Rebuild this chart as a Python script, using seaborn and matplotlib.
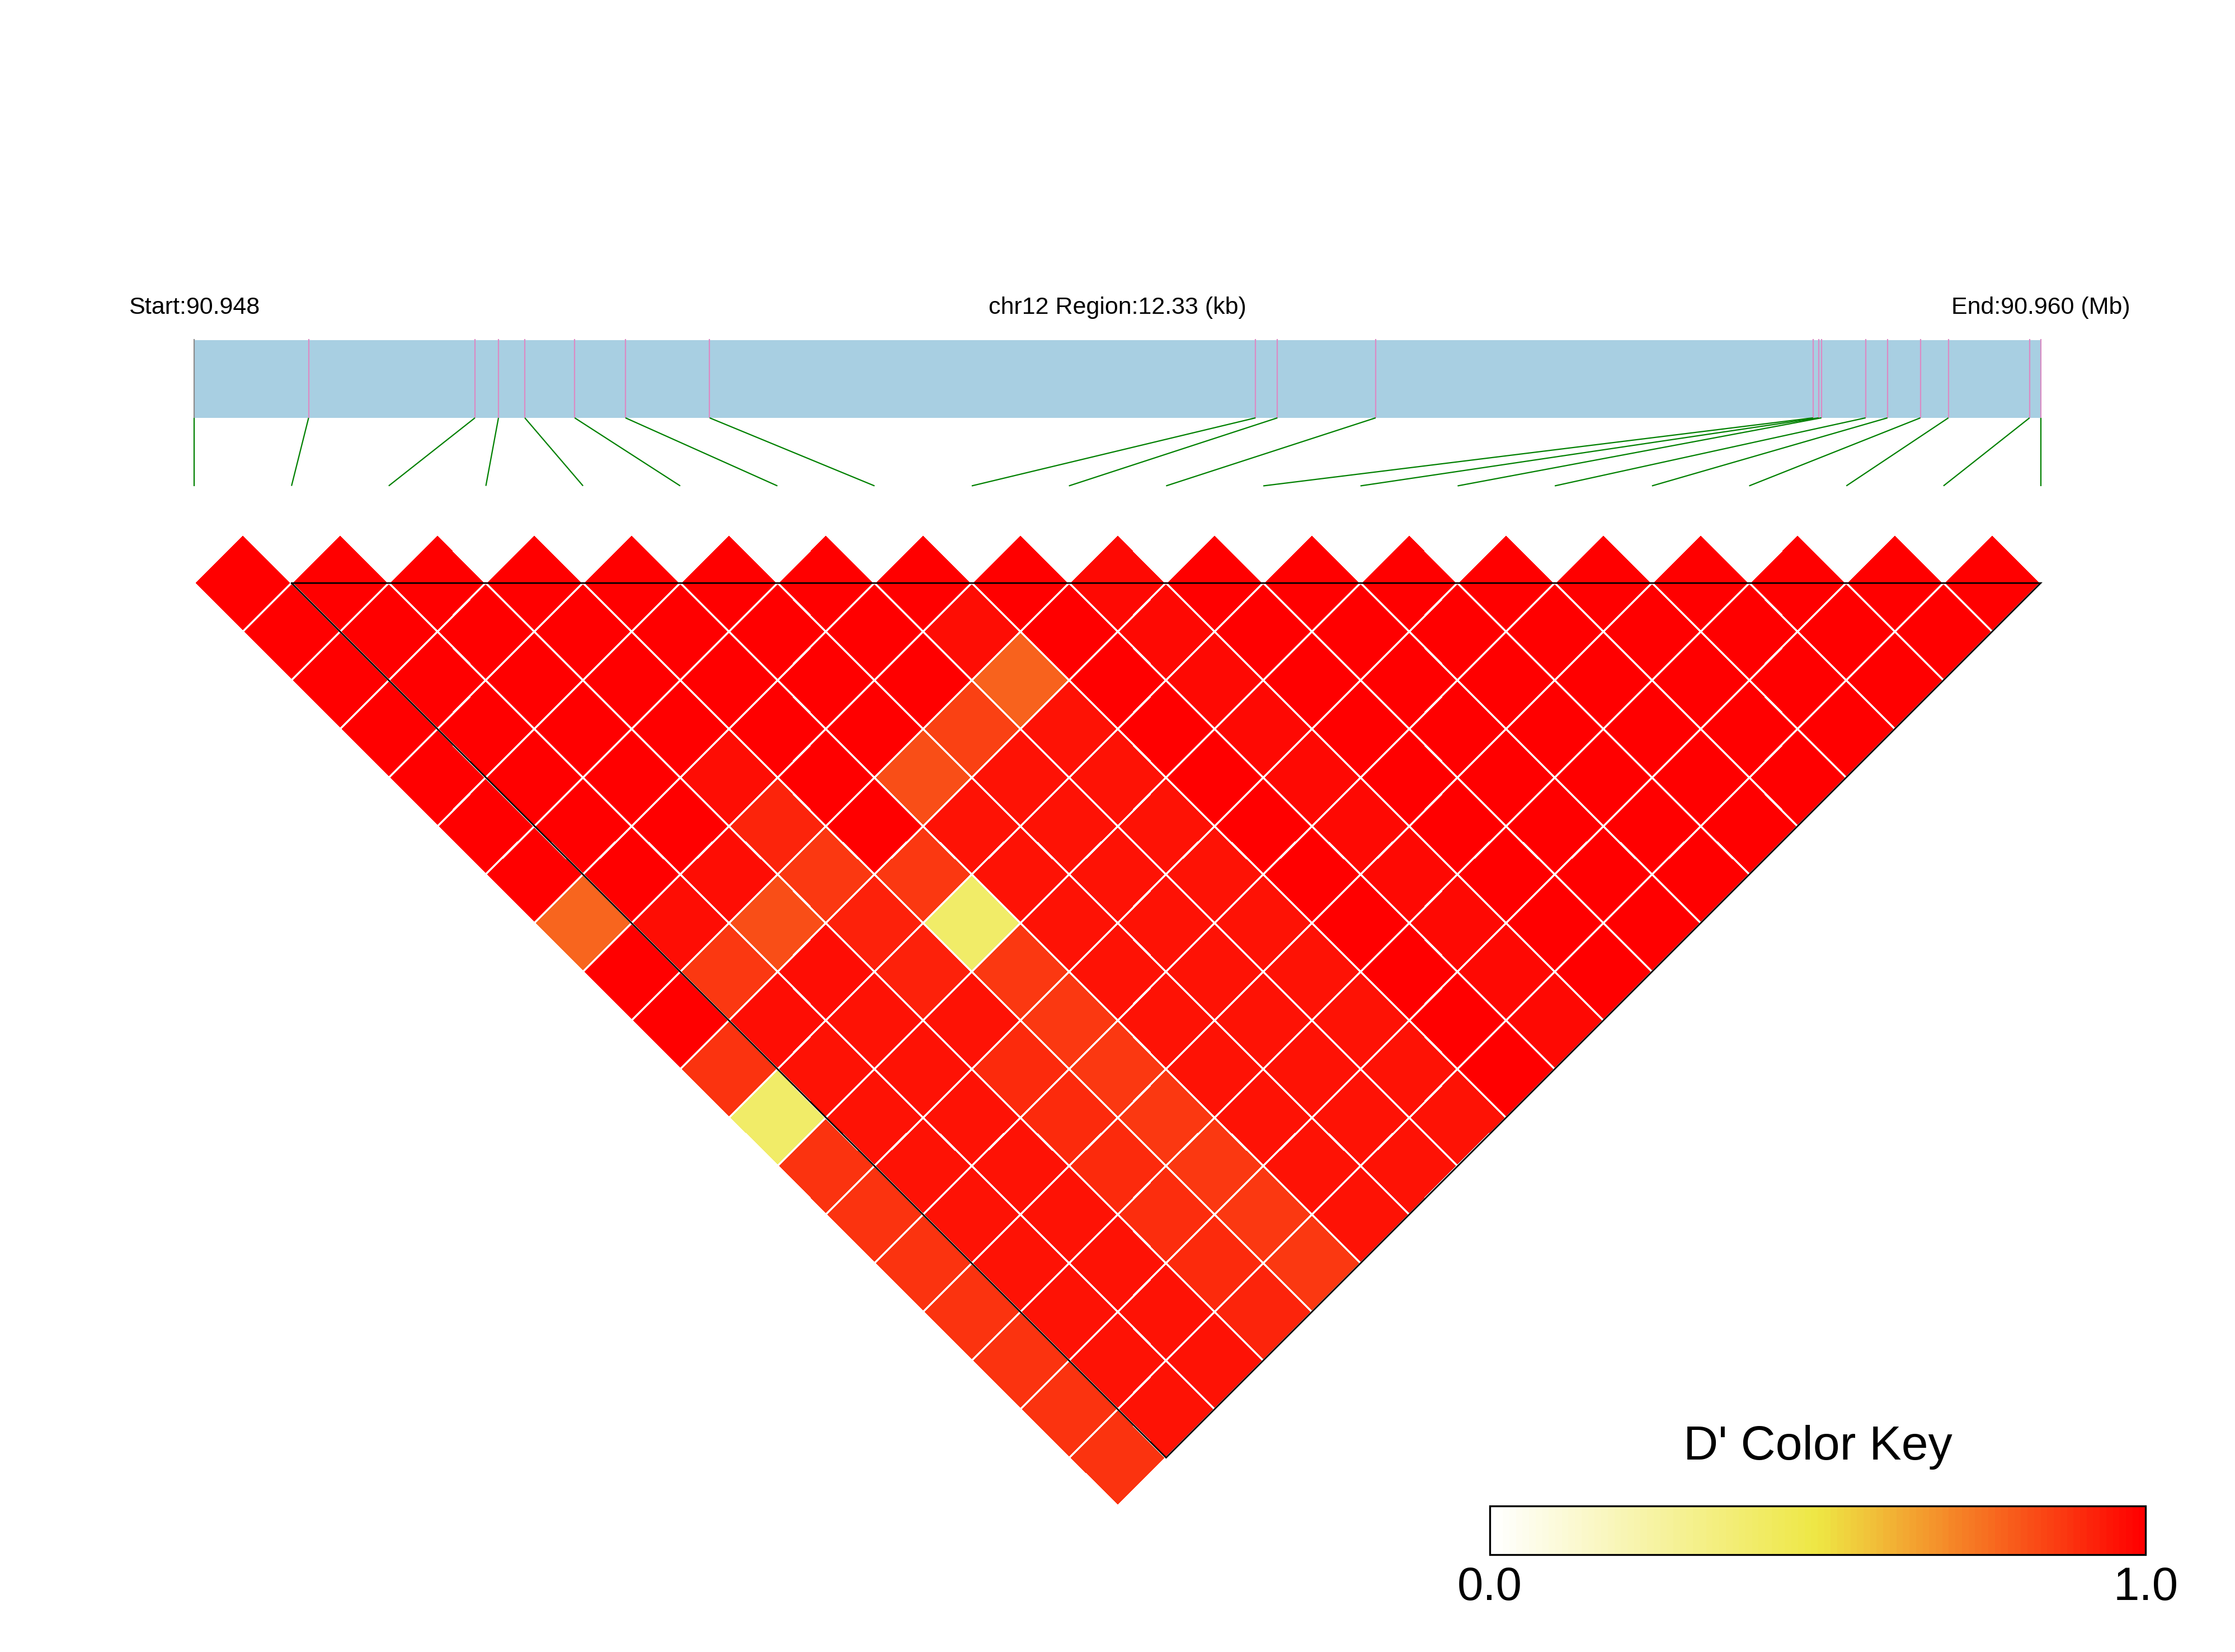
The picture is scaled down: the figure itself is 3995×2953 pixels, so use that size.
import numpy as np
import matplotlib
matplotlib.use("Agg")
import matplotlib.pyplot as plt
import seaborn as sns
from matplotlib.colors import LinearSegmentedColormap, ListedColormap
from matplotlib.transforms import Affine2D
from matplotlib.collections import LineCollection

# ---------------- data ----------------
chrom = "chr12"
snp_pos = [90947800, 90948563, 90949674, 90949831, 90950007, 90950340, 90950679,
           90951241, 90954887, 90955033, 90955689, 90958610, 90958647, 90958666,
           90958961, 90959107, 90959327, 90959514, 90960056, 90960130]

# D' of SNP i with SNPs i+1 .. 19
dp_0 = [1, 1, 1, 1, 1, 1, 1, 0.77, 1, 1, 0.88, 0.40, 0.88, 0.88, 0.88, 0.88, 0.88, 0.88, 0.88]
dp_1 = [1, 1, 1, 1, 1, 1, 1, 0.96, 0.87, 0.96, 0.95, 0.95, 0.95, 0.95, 0.95, 0.95, 0.95, 0.95]
dp_2 = [1, 1, 1, 1, 1, 1, 0.96, 0.82, 0.96, 0.95, 0.95, 0.95, 0.95, 0.95, 0.95, 0.95, 0.95]
dp_3 = [1, 1, 1, 1, 0.96, 0.91, 0.87, 0.92, 0.92, 0.95, 0.90, 0.90, 0.90, 0.89, 0.90, 0.91]
dp_4 = [1, 1, 1, 1, 1, 1, 0.87, 0.40, 0.87, 0.87, 0.87, 0.87, 0.87, 0.87, 0.87]
dp_5 = [1, 1, 1, 1, 0.82, 0.95, 0.95, 0.95, 0.95, 0.95, 0.95, 0.95, 0.95, 0.95]
dp_6 = [1, 1, 1, 0.85, 0.95, 0.95, 0.95, 0.95, 0.95, 0.95, 0.95, 0.95, 0.95]
dp_7 = [1, 0.96, 0.78, 0.95, 0.95, 0.95, 0.95, 0.95, 0.95, 0.95, 0.95, 0.95]
dp_8 = [1, 1, 1, 1, 1, 1, 1, 1, 1, 1, 1]
dp_9 = [0.97, 0.97, 0.97, 0.97, 0.97, 0.97, 0.97, 0.97, 0.97, 0.97]
dp_10 = [1, 1, 1, 1, 1, 1, 1, 1, 1]
dp_11 = [1, 1, 1, 1, 1, 1, 1, 1]
dp_12 = [1, 1, 1, 1, 1, 1, 1]
dp_13 = [1, 1, 1, 1, 1, 1]
dp_14 = [1, 1, 1, 1, 1]
dp_15 = [1, 1, 1, 1]
dp_16 = [1, 1, 1]
dp_17 = [1, 1]
dp_18 = [1]
dp_rows = [dp_0, dp_1, dp_2, dp_3, dp_4, dp_5, dp_6, dp_7, dp_8, dp_9,
           dp_10, dp_11, dp_12, dp_13, dp_14, dp_15, dp_16, dp_17, dp_18]

block_snps = [1, 19]          # LD block outlined in black
cbar_ticks = [0.0, 1.0]

# ---------------- build matrix ----------------
n = len(snp_pos)
M = np.full((n, n), np.nan)
for i, row in enumerate(dp_rows):
    for k, v in enumerate(row):
        M[i + 1 + k, i] = v

base = LinearSegmentedColormap.from_list("dkey", ["#FFFFFF", "#EEE744", "#FF0000"])
cmap = ListedColormap(base(np.linspace(0, 1, 100)))

sns.set_theme(style="white")
plt.rcParams["font.family"] = ["Liberation Sans", "DejaVu Sans"]
plt.rcParams["text.color"] = "black"
plt.rcParams["xtick.color"] = "black"
plt.rcParams["xtick.labelcolor"] = "black"

W, H = 3995, 2953
fig = plt.figure(figsize=(W / 100, H / 100), dpi=100)
ax = fig.add_axes([0, 0, 1, 1])
unit = W / 23.0
# colour key axes: x 13.33..20.08 units, y 9.5..10.0 units (top origin at -6)
cb_left, cb_right, cb_top, cb_bot = 13.33, 20.08, 9.5, 10.0
cax = fig.add_axes([(cb_left + 2) * unit / W, 1 - (cb_bot + 6) * unit / H,
                    (cb_right - cb_left) * unit / W, (cb_bot - cb_top) * unit / H])

sns.heatmap(M, mask=np.isnan(M), cmap=cmap, vmin=0, vmax=1, linewidths=1.7,
            linecolor="white", ax=ax, cbar=True, cbar_ax=cax,
            cbar_kws=dict(orientation="horizontal", ticks=cbar_ticks, format="%.1f"),
            xticklabels=False, yticklabels=False)

mesh = ax.collections[0]
rot = Affine2D(np.array([[0.5, 0.5, -0.5], [-0.5, 0.5, -0.5], [0, 0, 1]]))
mesh.set_transform(rot + ax.transData)
mesh.set_zorder(1)

ax.set_xlim(-2, 21)
ax.set_ylim(11, -6)
ax.set_axis_off()

# LD block outline
a, b = block_snps
ax.plot([a, b, a, a], [a + 1, b + 1, b + 1, a + 1], color="black", lw=2.0,
        transform=rot + ax.transData, zorder=4, solid_joinstyle="miter")

# ---------------- genetic map track ----------------
start, end = snp_pos[0], snp_pos[-1]
span = end - start
xg = [(p - start) / span * (n - 1) for p in snp_pos]
bar_top, bar_bot, line_end = -2.5, -1.7, -1.0
ax.fill_between([xg[0], xg[-1]], bar_top, bar_bot, color="#A8CFE2", lw=0, zorder=5)
ax.vlines(xg[1:], bar_top - 0.01, bar_bot, color="#DB8BC4", lw=1.6, zorder=6)
ax.vlines(xg[:1], bar_top - 0.01, bar_bot, color="#8C8C8C", lw=1.6, zorder=6)
segs = [[(xg[k], bar_bot), (k, line_end)] for k in range(n)]
ax.add_collection(LineCollection(segs, colors="#008000", linewidths=1.6, zorder=6))

fs_top = 31
ax.text(0, -2.77, f"Start:{start / 1e6:.3f}", ha="center", va="baseline", fontsize=fs_top, zorder=7)
ax.text((n - 1) / 2, -2.77, f"{chrom} Region:{span / 1000:.2f} (kb)", ha="center",
        va="baseline", fontsize=fs_top, zorder=7)
ax.text(n - 1, -2.77, f"End:{end / 1e6:.3f} (Mb)", ha="center", va="baseline",
        fontsize=fs_top, zorder=7)

# ---------------- colour key ----------------
ax.text((cb_left + cb_right) / 2, 9.02, "D' Color Key", ha="center", va="baseline",
        fontsize=62, zorder=7)
cb = mesh.colorbar
cb.outline.set_linewidth(2.4)
cb.outline.set_edgecolor("black")
cax.tick_params(axis="x", length=0, labelsize=60, pad=14, labelcolor="black")
for s in cax.spines.values():
    s.set_visible(True)

fig.savefig("out.png", dpi=100, facecolor="white")
